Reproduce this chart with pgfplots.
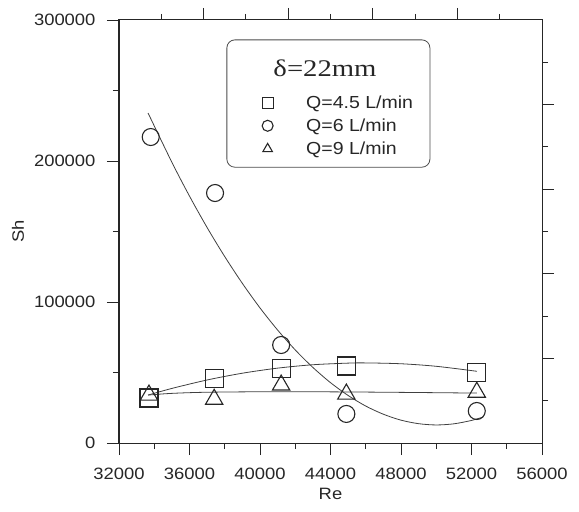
\documentclass[border=0pt]{standalone}
\usepackage{fontspec}
\setmainfont{Liberation Sans}[FakeStretch=1.12]
\newfontfamily\titlefont{Liberation Serif}[FakeStretch=1.2]
\usepackage{pgfplots}
\pgfplotsset{compat=1.18}
\begin{document}
\begin{tikzpicture}
\useasboundingbox (-119bp,-69bp) rectangle (460bp,443bp);
% secondary frame ticks (top and right)
\begin{axis}[
  at={(0,0)}, anchor=south west,
  scale only axis, width=423bp, height=423bp,
  xmin=0, xmax=10, ymin=0, ymax=10,
  xtick={2,4,6,8}, minor xtick={1,3,5,7,9},
  ytick={2,4,6,8}, minor ytick={1,3,5,7,9},
  xtick pos=top, ytick pos=right,
  xticklabels={}, yticklabels={},
  tick align=outside,
  major tick length=12bp, minor tick length=6bp,
  axis line style={line width=1bp, black!85},
  every tick/.style={black!85, line width=0.9bp},
]
\end{axis}
\begin{axis}[
  at={(0,0)}, anchor=south west,
  scale only axis, width=423bp, height=423bp,
  xmin=32000, xmax=56000, ymin=0, ymax=300000,
  xtick={32000,36000,40000,44000,48000,52000,56000},
  minor xtick={34000,38000,42000,46000,50000,54000},
  ytick={0,100000,200000,300000},
  minor ytick={50000,150000,250000},
  xtick pos=bottom, ytick pos=left,
  tick align=outside,
  major tick length=12bp, minor tick length=6bp,
  scaled ticks=false,
  /pgf/number format/fixed,
  /pgf/number format/1000 sep={},
  /pgf/number format/assume math mode=true,
  tick label style={font=\fontsize{16.5}{19}\selectfont, black!85},
  xticklabel style={yshift=-9bp},
  yticklabel style={xshift=-8bp},
  axis line style={line width=1bp, black!85},
  every tick/.style={black!85, line width=0.9bp},
  xlabel={Re}, ylabel={Sh},
  label style={font=\fontsize{16.5}{19}\selectfont, black!85},
  xlabel style={at={(axis description cs:0.5,-0.12)}, anchor=center},
  ylabel style={at={(axis description cs:-0.239,0.5)}, anchor=center},
  legend style={draw=none, fill=none, inner sep=0pt, outer sep=0pt,
    at={(axis description cs:0.317,0.826)}, anchor=north west,
    font=\fontsize{17.5}{20}\selectfont, row sep=5bp, text=black!85},
  legend cell align=left,
  legend image code/.code={\draw[#1, mark size=5.5bp] plot coordinates {(14bp,0bp)}; \path (0bp,0bp) (50bp,0bp);},
]
% fitted curves
\addplot[smooth, no marks, black!75, line width=0.8bp, forget plot] coordinates {
 (33650,34000) (35000,38700) (37000,44700) (39000,49500) (41000,53100)
 (43000,55500) (45000,56650) (46000,56800) (48000,56200) (50000,54400) (52310,50850)};
\addplot[smooth, no marks, black!75, line width=0.8bp, forget plot] coordinates {
 (33650,234000) (35000,199100) (36000,175100) (37000,152800) (38000,132200)
 (39000,113200) (40000,95800) (41000,80100) (42000,66000) (43000,53600)
 (44000,42800) (45000,33700) (46000,26200) (47000,20400) (48000,16200)
 (49000,13700) (50000,12800) (51000,13600) (52000,16000) (52650,18400)};
\addplot[smooth, no marks, black!75, line width=0.8bp, forget plot] coordinates {
 (33650,34000) (35000,35200) (37000,36000) (41000,36400) (45000,36200) (49000,35800) (52310,35400)};
% data
\addplot[only marks, mark=square, mark size=9bp, black!85, line width=1.1bp] coordinates {
 (33700,31900) (37400,46000) (41200,53000) (44900,54600) (52300,50300)};
\addlegendentry{Q=4.5 L/min}
\addplot[only marks, mark=o, mark size=8.5bp, black!85, line width=1.1bp] coordinates {
 (33800,217000) (37450,177300) (41200,69500) (44900,20600) (52300,22700)};
\addlegendentry{Q=6 L/min}
\addplot[only marks, mark=triangle, mark size=10bp, black!85, line width=1.1bp] coordinates {
 (33700,34000) (37400,31000) (41200,41100) (44900,34700) (52300,36000)};
\addlegendentry{Q=9 L/min}
% legend frame and title
\draw[rounded corners=8bp, black!70, line width=0.8bp]
  (axis description cs:0.255,0.652) rectangle (axis description cs:0.735,0.953);
\node[font=\titlefont\fontsize{24}{27}\selectfont, black!85, anchor=center]
  at (axis description cs:0.487,0.885) {δ=22mm};
\end{axis}
\end{tikzpicture}
\end{document}
